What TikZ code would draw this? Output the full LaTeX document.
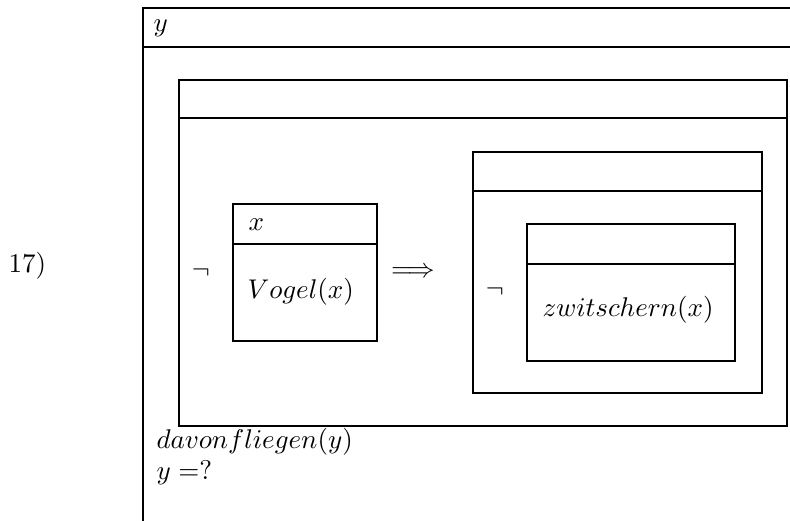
\documentclass[tikz,border=0pt]{standalone}
\begin{document}
\begin{tikzpicture}[x=0.013cm, y=-0.013cm]
    \tikzset{txt/.style={anchor=base west, inner sep=0pt}}
    \useasboundingbox (0,0) rectangle (790,521);

    % Number of the example
    \node[txt] (num) at (8,273) {17)};

    % Outer box (referent y)
    \draw (790,8) -- (143,8) -- (143,521);
    \draw (143,47) -- (790,47);
    \node[txt] (refy) at (153,32) {$y$};

    % Conditional box
    \draw (179,80) rectangle (787,426);
    \draw (179,118) -- (787,118);
    \node (negA) at (201,273) {$\neg$};

    % Antecedent (Vogel)
    \draw (233,204) rectangle (377,341);
    \draw (233,244) -- (377,244);
    \node[txt] (refx) at (248,231) {$x$};
    \node[txt] (vogel) at (247,299) {$Vogel(x)$};

    \node (impl) at (413,273) {$\Longrightarrow$};

    % Consequent
    \draw (473,152) rectangle (762,393);
    \draw (473,191) -- (762,191);
    \node (negB) at (495,292) {$\neg$};

    % Inner box (zwitschern)
    \draw (527,224) rectangle (735,361);
    \draw (527,264) -- (735,264);
    \node[txt] (zwit) at (542,316) {$zwitschern(x)$};

    % Conditions of the outer box
    \node[txt] (flieg) at (156,448) {$davonfliegen(y)$};
    \node[txt] (frage) at (156,480) {$y =$?};
\end{tikzpicture}
\end{document}
